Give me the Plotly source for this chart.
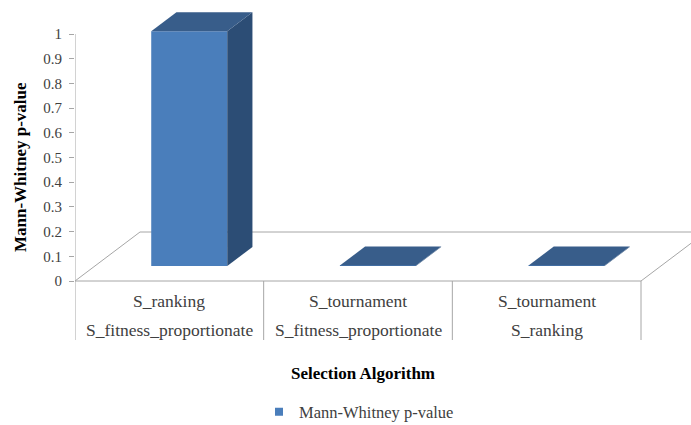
import plotly.graph_objects as go

# ---- data -------------------------------------------------------------
cat_line1 = ["S_ranking", "S_tournament", "S_tournament"]
cat_line2 = ["S_fitness_proportionate", "S_fitness_proportionate", "S_ranking"]
p_values = [0.95, 0.002, 0.002]
series_name = "Mann-Whitney p-value"
y_tick_vals = [0, 0.1, 0.2, 0.3, 0.4, 0.5, 0.6, 0.7, 0.8, 0.9, 1]
y_tick_text = ["0", "0.1", "0.2", "0.3", "0.4", "0.5", "0.6", "0.7", "0.8", "0.9", "1"]

# ---- page / projection geometry (pixels) ------------------------------
W, H = 691, 425
LEFT = 75            # front-left corner of the floor / value axis
ZERO_PX = 281        # vertical pixel of value 0 on the front edge
CAT_PX = 188.67      # width of one category along the front edge
VAL_PX = 247.0       # pixels per value unit
DEPTH_DX_PX, DEPTH_DY_PX = 65, 49   # oblique offset of the whole floor depth
BAR_FRONT, BAR_BACK = 15 / 49, 34 / 49  # bar position inside the depth
BAR_W_PX = 76
BOX_BOTTOM_PX = 340  # bottom of the category label box

FRONT = "#4A7EBB"
SIDE = "#2C4D75"
TOP = "#385D8A"
FRAME = "#A6A6A6"
TEXT = "#404040"
FONT = "'Liberation Serif', 'Times New Roman', 'DejaVu Serif', serif"

# derived data-unit quantities
DX = DEPTH_DX_PX / CAT_PX
DY = DEPTH_DY_PX / VAL_PX
BW = BAR_W_PX / CAT_PX
n = len(p_values)
x_lo = -0.5
x_hi = -0.5 + (W - LEFT) / CAT_PX
y_hi = ZERO_PX / VAL_PX
y_lo = -(H - ZERO_PX) / VAL_PX
box_bottom = -(BOX_BOTTOM_PX - ZERO_PX) / VAL_PX


def paper_x(px):
    return (px - LEFT) / (W - LEFT)


def paper_y(px):
    return (H - px) / H


fig = go.Figure()

# front faces of the columns
fx0, fy0 = BAR_FRONT * DX, BAR_FRONT * DY
bdx, bdy = (BAR_BACK - BAR_FRONT) * DX, (BAR_BACK - BAR_FRONT) * DY
fig.add_trace(go.Bar(
    x=[i + fx0 for i in range(n)], y=p_values, base=[fy0] * n, width=BW,
    marker=dict(color=FRONT, line=dict(width=0)), showlegend=False,
    hoverinfo="skip",
))

# side and top faces
for i, v in enumerate(p_values):
    xl = i + fx0 - BW / 2
    xr = i + fx0 + BW / 2
    yb = fy0
    yt = fy0 + v
    fig.add_trace(go.Scatter(
        x=[xr, xr, xr + bdx, xr + bdx, xr], y=[yb, yt, yt + bdy, yb + bdy, yb],
        fill="toself", fillcolor=SIDE, mode="lines", line=dict(width=0),
        showlegend=False, hoverinfo="skip",
    ))
    fig.add_trace(go.Scatter(
        x=[xl, xr, xr + bdx, xl + bdx, xl], y=[yt, yt, yt + bdy, yt + bdy, yt],
        fill="toself", fillcolor=TOP, mode="lines", line=dict(width=0),
        showlegend=False, hoverinfo="skip",
    ))

# legend entry
fig.add_trace(go.Scatter(
    x=[None], y=[None], mode="markers", name=series_name,
    marker=dict(symbol="square", size=8, color=FRONT),
))

# floor outline, value axis line and category box
line = dict(color=FRAME, width=1)
shapes = [
    dict(type="line", x0=x_lo, y0=0, x1=n - 0.5, y1=0),
    dict(type="line", x0=x_lo, y0=0, x1=x_lo + DX, y1=DY),
    dict(type="line", x0=x_lo + DX, y0=DY, x1=n - 0.5 + DX, y1=DY),
    dict(type="line", x0=n - 0.5, y0=0, x1=n - 0.5 + DX, y1=DY),
    dict(type="line", x0=x_lo, y0=1, x1=x_lo, y1=box_bottom),
]
for k in range(1, n + 1):
    shapes.append(dict(type="line", x0=k - 0.5, y0=0, x1=k - 0.5, y1=box_bottom))
for s in shapes:
    s.update(xref="x", yref="y", layer="below", line=line)

annotations = []
for i in range(n):
    annotations.append(dict(x=i, y=-(301 - ZERO_PX) / VAL_PX, xref="x", yref="y",
                            text=cat_line1[i], showarrow=False, yanchor="middle",
                            font=dict(family=FONT, size=17.5, color=TEXT)))
    annotations.append(dict(x=i, y=-(330 - ZERO_PX) / VAL_PX, xref="x", yref="y",
                            text=cat_line2[i], showarrow=False, yanchor="middle",
                            font=dict(family=FONT, size=17.5, color=TEXT)))
annotations.append(dict(x=paper_x(363), y=paper_y(373), xref="paper", yref="paper",
                        xanchor="center", yanchor="middle",
                        text="<b>Selection Algorithm</b>", showarrow=False,
                        font=dict(family=FONT, size=17, color="#000000")))
annotations.append(dict(x=paper_x(20), y=paper_y(167), xref="paper", yref="paper",
                        xanchor="center", yanchor="middle",
                        text="<b>Mann-Whitney p-value</b>", textangle=-90, showarrow=False,
                        font=dict(family=FONT, size=17, color="#000000")))

fig.update_layout(
    width=W, height=H,
    margin=dict(l=LEFT, r=0, t=0, b=0, autoexpand=False),
    plot_bgcolor="white", paper_bgcolor="white",
    shapes=shapes, annotations=annotations,
    xaxis=dict(range=[x_lo, x_hi], visible=False, fixedrange=True),
    yaxis=dict(range=[y_lo, y_hi], tickvals=y_tick_vals, ticktext=y_tick_text,
               ticks="outside", ticklen=5, tickcolor=FRAME, tickwidth=1,
               showline=False, showgrid=False, zeroline=False,
               ticklabelstandoff=4,
               tickfont=dict(family=FONT, size=15, color=TEXT), fixedrange=True),
    showlegend=True,
    legend=dict(x=paper_x(259), y=paper_y(412), xanchor="left", yanchor="middle",
                orientation="h", font=dict(family=FONT, size=16.5, color=TEXT),
                bgcolor="rgba(0,0,0,0)"),
    barmode="overlay",
)

fig.write_html("out.html")
